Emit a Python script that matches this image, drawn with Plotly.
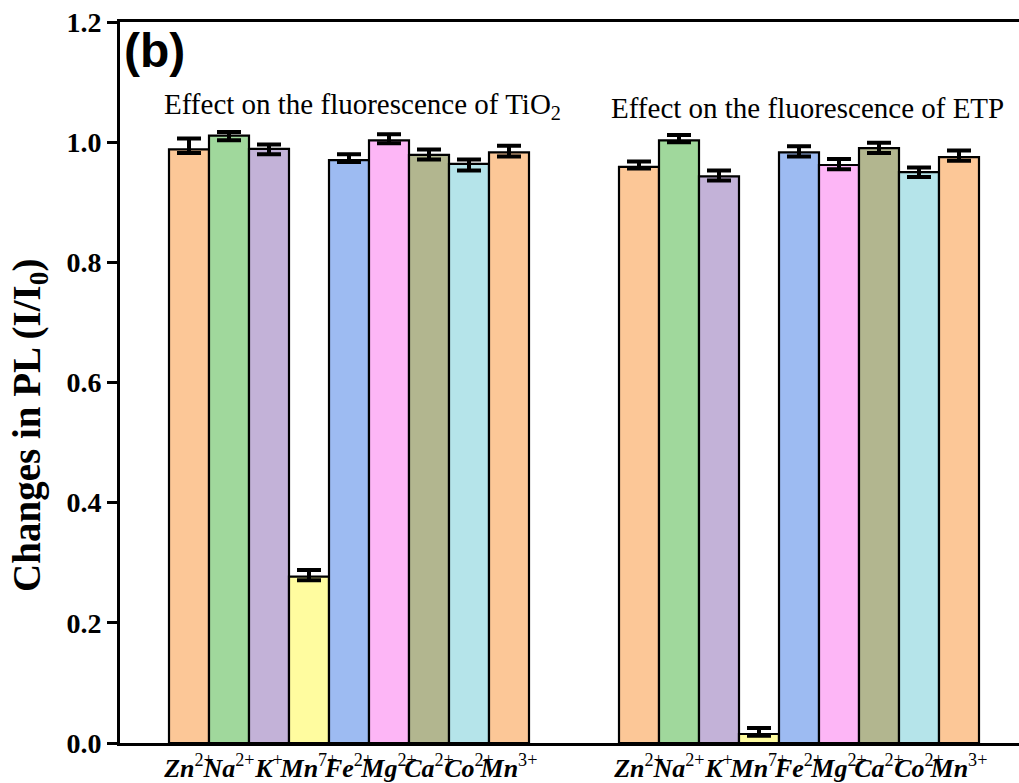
import numpy as np
import plotly.graph_objects as go

# ---------------- data ----------------
ions = ["Zn", "Na", "K", "Mn", "Fe", "Mg", "Ca", "Co", "Mn"]
charges = ["2+", "2+", "+", "7+", "2+", "2+", "2+", "2+", "3+"]
colors = ["#FCC797", "#A0D89C", "#C3B2D8", "#FFFC9F", "#9DBBF2",
          "#FDB6F6", "#B2B68F", "#B5E4EA", "#FCC797"]

tio2_vals = [0.988, 1.011, 0.989, 0.277, 0.970, 1.003, 0.979, 0.964, 0.983]
tio2_plus = [0.018, 0.006, 0.007, 0.011, 0.010, 0.010, 0.009, 0.007, 0.011]
tio2_minus = [0.006, 0.008, 0.009, 0.006, 0.003, 0.005, 0.008, 0.011, 0.007]

etp_vals = [0.959, 1.003, 0.943, 0.015, 0.983, 0.962, 0.990, 0.950, 0.975]
etp_plus = [0.009, 0.009, 0.010, 0.010, 0.010, 0.010, 0.009, 0.008, 0.011]
etp_minus = [0.003, 0.003, 0.007, 0.003, 0.007, 0.007, 0.008, 0.008, 0.006]

group_titles = ["Effect on the fluorescence of TiO<sub>2</sub>",
                "Effect on the fluorescence of ETP"]
y_ticks = [0.0, 0.2, 0.4, 0.6, 0.8, 1.0, 1.2]

# ---------------- layout helpers ----------------
GROUP_GAP = 2.25
pos1 = np.arange(len(ions), dtype=float)
pos2 = pos1 + len(ions) + GROUP_GAP
ticktext = [f"<b><i>{i}</i></b><sup>{c}</sup>" for i, c in zip(ions, charges)]

fig = go.Figure()
for pos, vals, plus, minus in [(pos1, tio2_vals, tio2_plus, tio2_minus),
                               (pos2, etp_vals, etp_plus, etp_minus)]:
    fig.add_trace(go.Bar(
        x=pos, y=vals, width=1.0,
        marker=dict(color=colors, line=dict(color="black", width=2.2)),
        error_y=dict(type="data", array=plus, arrayminus=minus, symmetric=False,
                     color="black", thickness=4, width=12),
        showlegend=False,
    ))

W, H = 1019, 783
ML, MR, MT, MB = 120, 0, 22, 38
pw, ph = W - ML - MR, H - MT - MB


def px(x):
    return (x - ML) / pw


def py(y):
    return (H - MB - y) / ph


serif = "Liberation Serif"
fig.update_layout(
    width=W, height=H,
    margin=dict(l=ML, r=MR, t=MT, b=MB, pad=0),
    plot_bgcolor="white", paper_bgcolor="white",
    xaxis=dict(
        range=[-1.725, 20.75],
        tickvals=list(pos1) + list(pos2),
        ticktext=ticktext + ticktext,
        tickangle=0,
        ticks="", showgrid=False, zeroline=False,
        showline=True, linecolor="black", linewidth=3, mirror=True,
        tickfont=dict(family=serif, size=26, color="black"),
    ),
    yaxis=dict(
        range=[0, 1.2],
        tickvals=y_ticks,
        tickformat=".1f",
        ticks="outside", ticklen=10, tickwidth=2.5, tickcolor="black",
        showgrid=False, zeroline=False,
        showline=True, linecolor="black", linewidth=3,
        tickfont=dict(family=serif, size=28, color="black", weight="bold"),
    ),
    font=dict(family=serif, color="black"),
    annotations=[
        dict(text="<b>(b)</b>", xref="paper", yref="paper", x=px(122), y=py(22),
             xanchor="left", yanchor="top", showarrow=False,
             font=dict(family="Liberation Sans", size=48, color="black")),
        dict(text=group_titles[0], xref="paper", yref="paper", x=px(162), y=py(106),
             xanchor="left", yanchor="middle", showarrow=False,
             font=dict(family=serif, size=29, color="black")),
        dict(text=group_titles[1], xref="paper", yref="paper", x=px(609), y=py(108),
             xanchor="left", yanchor="middle", showarrow=False,
             font=dict(family=serif, size=29, color="black")),
        dict(text="<b>Changes in PL (I/I<sub>0</sub>)</b>", xref="paper", yref="paper",
             x=px(30), y=py(427), xanchor="center", yanchor="middle", textangle=-90,
             showarrow=False, font=dict(family=serif, size=39, color="black")),
    ],
)

fig.write_html("out.html",
               config={"displayModeBar": False},
               post_script="document.body.style.margin='0';document.body.style.overflow='hidden';")
